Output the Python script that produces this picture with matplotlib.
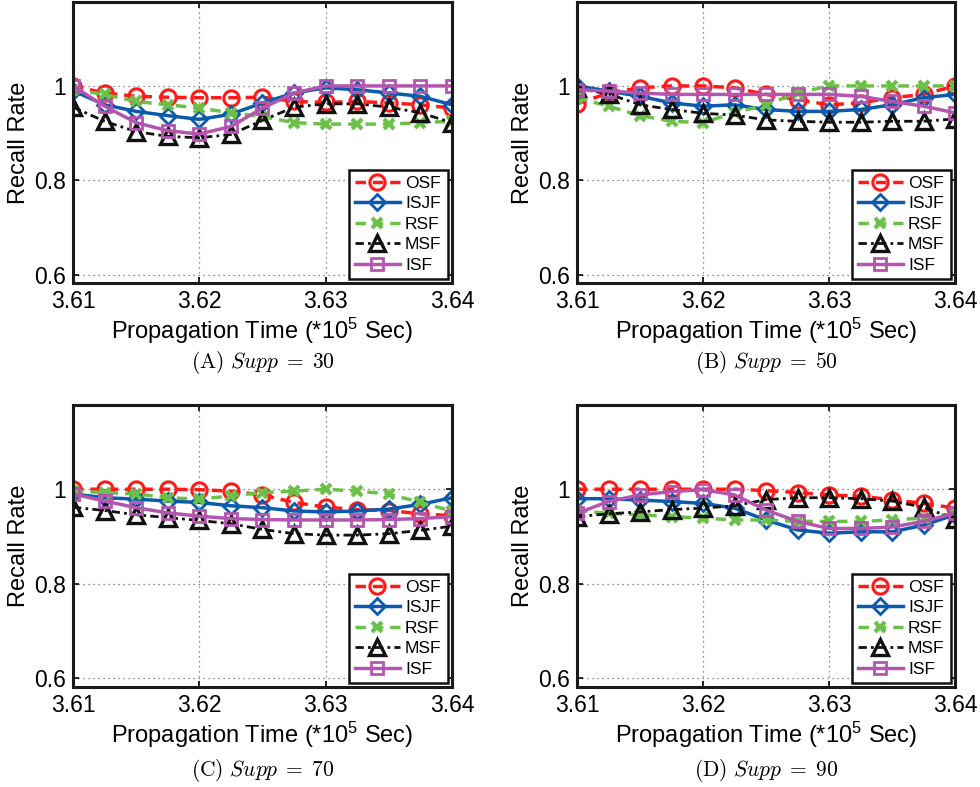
import matplotlib
matplotlib.use("Agg")
import matplotlib.pyplot as plt
import numpy as np

plt.rcParams['font.family'] = ['Liberation Sans', 'DejaVu Sans']
plt.rcParams['mathtext.fontset'] = 'custom'
plt.rcParams['mathtext.rm'] = 'Liberation Sans'
plt.rcParams['mathtext.it'] = 'Liberation Sans:italic'

x = [3.61, 3.6125, 3.615, 3.6175, 3.62, 3.6225, 3.625, 3.6275, 3.63, 3.6325, 3.635, 3.6375, 3.64]
series_names = ["OSF", "ISJF", "RSF", "MSF", "ISF"]
panel_captions = ["(A)", "(B)", "(C)", "(D)"]
supp_values = [30, 50, 70, 90]
xticks = [3.61, 3.62, 3.63, 3.64]
xtick_labels = ["3.61", "3.62", "3.63", "3.64"]
yticks = [0.6, 0.8, 1.0]
ytick_labels = ["0.6", "0.8", "1"]

# Panel A (Supp = 30)
a_osf  = [1.00, 0.985, 0.978, 0.976, 0.975, 0.975, 0.976, 0.967, 0.965, 0.967, 0.964, 0.960, 0.953]
a_isjf = [0.99, 0.960, 0.946, 0.937, 0.929, 0.940, 0.964, 0.985, 0.996, 0.992, 0.985, 0.978, 0.960]
a_rsf  = [0.992, 0.982, 0.967, 0.960, 0.953, 0.943, 0.935, 0.922, 0.919, 0.919, 0.919, 0.922, 0.925]
a_msf  = [0.955, 0.925, 0.903, 0.893, 0.890, 0.897, 0.927, 0.955, 0.962, 0.962, 0.955, 0.943, 0.922]
a_isf  = [1.00, 0.957, 0.922, 0.905, 0.898, 0.914, 0.953, 0.985, 1.00, 1.00, 1.00, 1.00, 1.00]

# Panel B (Supp = 50)
b_osf  = [0.962, 0.985, 0.996, 1.00, 1.00, 0.996, 0.982, 0.971, 0.960, 0.964, 0.975, 0.982, 1.00]
b_isjf = [1.00, 0.989, 0.978, 0.964, 0.957, 0.960, 0.950, 0.946, 0.946, 0.950, 0.960, 0.975, 0.982]
b_rsf  = [0.975, 0.957, 0.937, 0.925, 0.922, 0.943, 0.960, 0.985, 1.00, 1.00, 1.00, 1.00, 1.00]
b_msf  = [0.995, 0.983, 0.960, 0.950, 0.942, 0.938, 0.928, 0.925, 0.923, 0.923, 0.925, 0.925, 0.930]
b_isf  = [0.992, 0.989, 0.985, 0.982, 0.982, 0.982, 0.982, 0.982, 0.982, 0.978, 0.967, 0.957, 0.943]

# Panel C (Supp = 70)
c_osf  = [1.00, 1.00, 1.00, 1.00, 0.999, 0.996, 0.988, 0.972, 0.962, 0.957, 0.955, 0.948, 0.944]
c_isjf = [0.990, 0.982, 0.979, 0.975, 0.972, 0.965, 0.961, 0.954, 0.952, 0.954, 0.958, 0.968, 0.982]
c_rsf  = [0.996, 0.993, 0.990, 0.982, 0.979, 0.986, 0.993, 0.996, 1.00, 0.996, 0.990, 0.972, 0.954]
c_msf  = [0.962, 0.955, 0.946, 0.940, 0.934, 0.927, 0.915, 0.906, 0.903, 0.903, 0.906, 0.913, 0.922]
c_isf  = [0.990, 0.975, 0.961, 0.950, 0.943, 0.938, 0.936, 0.935, 0.935, 0.935, 0.936, 0.938, 0.942]

# Panel D (Supp = 90)
d_osf  = [1.00, 1.00, 1.00, 1.00, 1.00, 1.00, 0.997, 0.993, 0.988, 0.985, 0.978, 0.970, 0.960]
d_isjf = [0.980, 0.980, 0.977, 0.974, 0.970, 0.960, 0.935, 0.914, 0.907, 0.910, 0.910, 0.924, 0.946]
d_rsf  = [0.955, 0.949, 0.946, 0.942, 0.939, 0.935, 0.935, 0.932, 0.932, 0.932, 0.935, 0.939, 0.949]
d_msf  = [0.942, 0.948, 0.952, 0.957, 0.960, 0.965, 0.978, 0.982, 0.982, 0.980, 0.975, 0.962, 0.937]
d_isf  = [0.949, 0.974, 0.988, 0.995, 0.999, 0.988, 0.956, 0.932, 0.917, 0.917, 0.920, 0.932, 0.949]

panels = [
    [a_osf, a_isjf, a_rsf, a_msf, a_isf],
    [b_osf, b_isjf, b_rsf, b_msf, b_isf],
    [c_osf, c_isjf, c_rsf, c_msf, c_isf],
    [d_osf, d_isjf, d_rsf, d_msf, d_isf],
]

styles = [
    dict(color='#ff1a1a', linestyle=(0, (3, 2)), marker='o', ms=11, mfc='none', mew=2.2, lw=2.5),
    dict(color='#0b5aad', linestyle='-', marker='D', ms=8.5, mfc='none', mew=2.0, lw=2.5),
    dict(color='#6cc04a', linestyle=(0, (3, 2)), marker='x', ms=7, mew=3.0, lw=2.5),
    dict(color='#111111', linestyle=(0, (3, 1.5, 1, 1.5)), marker='^', ms=12, mfc='none', mew=2.4, lw=2.0),
    dict(color='#b455b0', linestyle='-', marker='s', ms=9, mfc='none', mew=2.0, lw=2.5),
]

W, H = 980, 787
fig = plt.figure(figsize=(W / 100, H / 100), dpi=100)

# axes boxes in pixels: (left, top, right, bottom), caption offset
boxes = [(73, 2, 452, 283), (577, 2, 955, 283), (73, 405, 452, 687), (577, 405, 955, 687)]
cap_off = [79, 79, 83, 83]

for i, (left, top, right, bottom) in enumerate(boxes):
    ax = fig.add_axes([left / W, 1 - bottom / H, (right - left) / W, (bottom - top) / H])
    for vals, name, st in zip(panels[i], series_names, styles):
        ax.plot(x, vals, label=name, **st)
    ax.set_xlim(3.61, 3.64)
    ax.set_ylim(0.582, 1.178)
    ax.set_xticks(xticks)
    ax.set_xticklabels(xtick_labels)
    ax.set_yticks(yticks)
    ax.set_yticklabels(ytick_labels)
    ax.tick_params(direction='in', labelsize=16.5, length=4, width=1.2, pad=5,
                   top=True, right=True)
    ax.grid(True, linestyle=(0, (1, 3)), color='#666666', linewidth=0.9)
    for sp in ax.spines.values():
        sp.set_linewidth(2.2)
        sp.set_color('#1a1a1a')
    ax.set_xlabel('Propagation Time (*10$^{5}$ Sec)', fontsize=17, labelpad=2)
    ax.set_ylabel('Recall Rate', fontsize=17, labelpad=3)
    leg = ax.legend(loc='lower right', fontsize=12.5, handlelength=2.6, handletextpad=0.3,
                    labelspacing=0.3, borderpad=0.35, borderaxespad=0.25,
                    fancybox=False, framealpha=1, edgecolor='#111111')
    leg.get_frame().set_linewidth(1.8)
    cx = (left + right) / 2 / W
    cy = 1 - (bottom + cap_off[i]) / H
    fig.text(cx, cy, r'$\mathrm{%s}\ Supp\;=\;%d$' % (panel_captions[i], supp_values[i]),
             ha='center', va='center', fontsize=15.5, math_fontfamily='cm')

fig.savefig('out.png', dpi=100)
